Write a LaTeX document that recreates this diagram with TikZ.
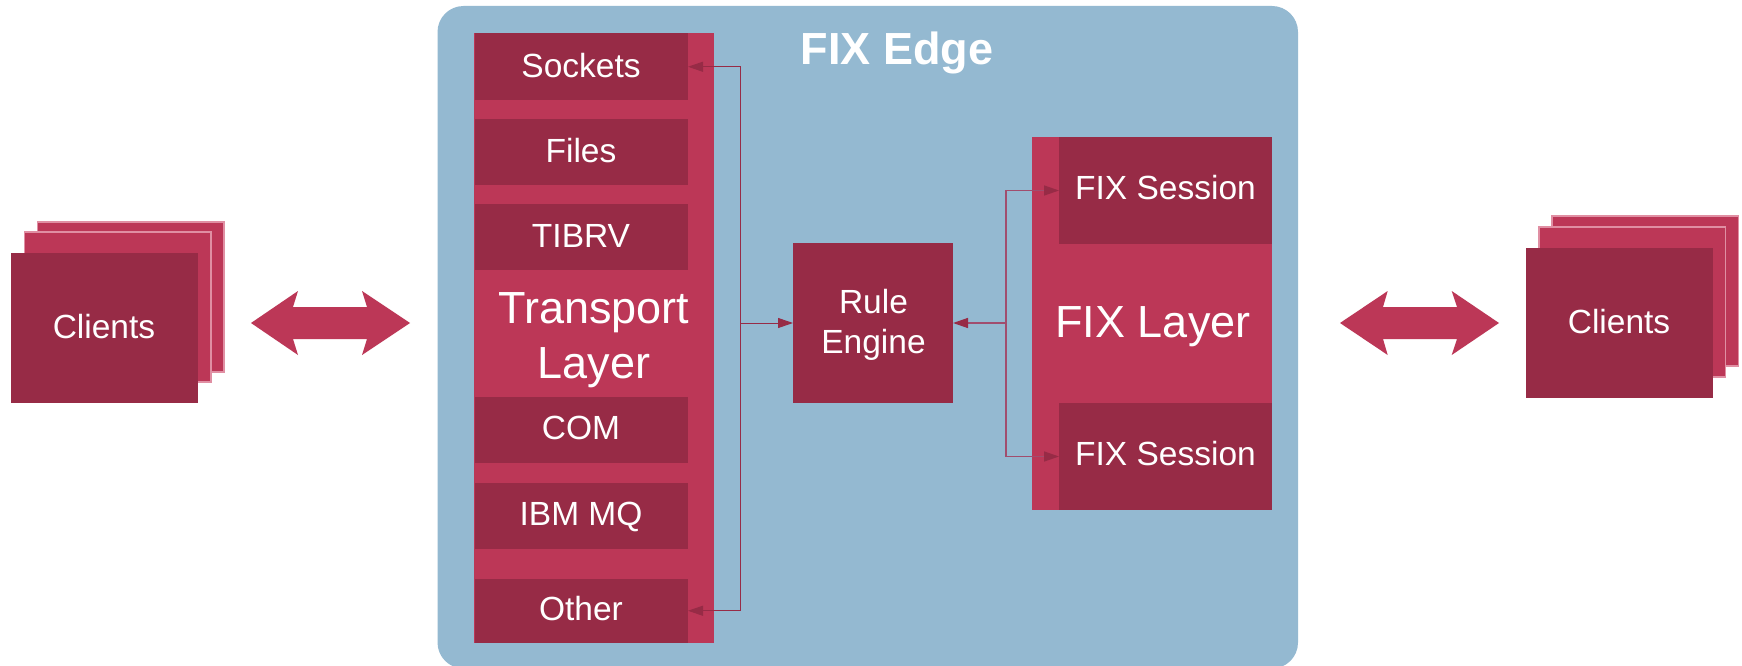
\documentclass[tikz,border=0pt]{standalone}
\usepackage{fontspec}
\setmainfont{Liberation Sans}
\usetikzlibrary{arrows.meta}
\definecolor{darkred}{HTML}{972B46}
\definecolor{brightred}{HTML}{BC3757}
\definecolor{panelblue}{HTML}{94B9D1}
\definecolor{cardedge}{HTML}{E08FA3}
\definecolor{softline}{HTML}{A14D6E}
\tikzset{
  panel/.style={fill=panelblue,rounded corners=26pt},
  box/.style={anchor=north west,inner sep=0pt,outer sep=0pt,draw=none},
  darkbox/.style={box,fill=darkred},
  layerbox/.style={box,fill=brightred},
  card/.style={anchor=north west,inner sep=0pt,outer sep=0pt,fill=brightred,draw=cardedge,line width=1.4pt,minimum width=186.5pt,minimum height=150pt},
  bigarrow/.style={fill=brightred},
  link/.style={draw=darkred,line width=1pt,-{Triangle[length=15pt,width=10pt]}},
  softlink/.style={draw=softline,line width=1.4pt,-{Triangle[length=15pt,width=10pt,color=darkred,fill=darkred]}},
  txt/.style={anchor=base,text=white,inner sep=0pt,outer sep=0pt,font=\fontsize{33.5}{40}\selectfont},
  bigtxt/.style={txt,font=\fontsize{45}{55}\selectfont},
  titletxt/.style={txt,font=\fontsize{45}{55}\selectfont\bfseries},
}
\begin{document}
\begin{tikzpicture}[x=1pt,y=-1pt]
\useasboundingbox (0,0) rectangle (1742,666);
\fill[white] (0,0) rectangle (1742,666);
% main panel
\begin{scope}
  \clip (0,0) rectangle (1742,666);
  \path[panel] (437.5,6) rectangle (1298,668.5);
\end{scope}
\node[titletxt] (title) at (897,65) {FIX Edge};
% left clients
\node[card] (lcb) at (37.5,222) {};
\node[card] (lcm) at (24.5,232) {};
\node[darkbox,minimum width=187pt,minimum height=150pt] (lc) at (11,253) {};
\node[txt] (lct) at (104,338) {Clients};
% right clients
\node[card] (rcb) at (1552,216) {};
\node[card] (rcm) at (1539,227) {};
\node[darkbox,minimum width=187pt,minimum height=150pt] (rc) at (1526,248) {};
\node[txt] (rct) at (1619,333) {Clients};
% block arrows
\fill[bigarrow] (251,323) -- (298,291) -- (293,307) -- (367,307) -- (362,291) -- (410,323) -- (362,355) -- (367,339) -- (293,339) -- (298,355) -- cycle;
\fill[bigarrow] (1340,323) -- (1387.7,291) -- (1383,307) -- (1457,307) -- (1451.7,291) -- (1499,323) -- (1451.7,355) -- (1457,339) -- (1383,339) -- (1387.7,355) -- cycle;
% transport layer
\node[layerbox,minimum width=240pt,minimum height=610pt] (transport) at (474,33) {};
\node[darkbox,minimum width=213.5pt,minimum height=66.5pt] (sockets) at (474.5,33.5) {};
\node[darkbox,minimum width=213.5pt,minimum height=66pt] (files) at (474.5,119) {};
\node[darkbox,minimum width=213.5pt,minimum height=66pt] (tibrv) at (474.5,204) {};
\node[darkbox,minimum width=213.5pt,minimum height=66pt] (com) at (474.5,397) {};
\node[darkbox,minimum width=213.5pt,minimum height=66pt] (mq) at (474.5,483) {};
\node[darkbox,minimum width=213.5pt,minimum height=63.5pt] (other) at (474.5,579) {};
\node[txt] (tsockets) at (581,77.5) {Sockets};
\node[txt] (tfiles) at (581,162) {Files};
\node[txt] (ttibrv) at (581,247) {TIBRV};
\node[txt] (tcom) at (581,439.5) {COM};
\node[txt] (tmq) at (581,525.5) {IBM MQ};
\node[txt] (tother) at (581,620.5) {Other};
\node[bigtxt] (tl1) at (594,323) {Transport};
\node[bigtxt] (tl2) at (594,378) {Layer};
% rule engine
\node[darkbox,minimum width=160pt,minimum height=160pt] (rule) at (793,243) {};
\node[txt] (tr1) at (873.5,313) {Rule};
\node[txt] (tr2) at (873.5,353) {Engine};
% FIX layer
\node[layerbox,minimum width=240pt,minimum height=373pt] (fixlayer) at (1032,137) {};
\node[darkbox,minimum width=213pt,minimum height=107pt] (s1) at (1059,137) {};
\node[darkbox,minimum width=213pt,minimum height=107pt] (s2) at (1059,403) {};
\node[txt] (ts1) at (1165.5,199.5) {FIX Session};
\node[txt] (ts2) at (1165.5,465.5) {FIX Session};
\node[bigtxt] (tfl) at (1153,337) {FIX Layer};
% connectors
\coordinate (lj) at (740.5,323);
\coordinate (rj) at (1006,323);
\draw[link] (lj) -- (rule.west);
\draw[link] (lj) |- (sockets.east);
\draw[link] (lj) |- (other.east);
\draw[softlink] (rj) -- (rule.east);
\draw[softlink] (rj) |- (s1.west);
\draw[softlink] (rj) |- (s2.west);
\end{tikzpicture}
\end{document}
